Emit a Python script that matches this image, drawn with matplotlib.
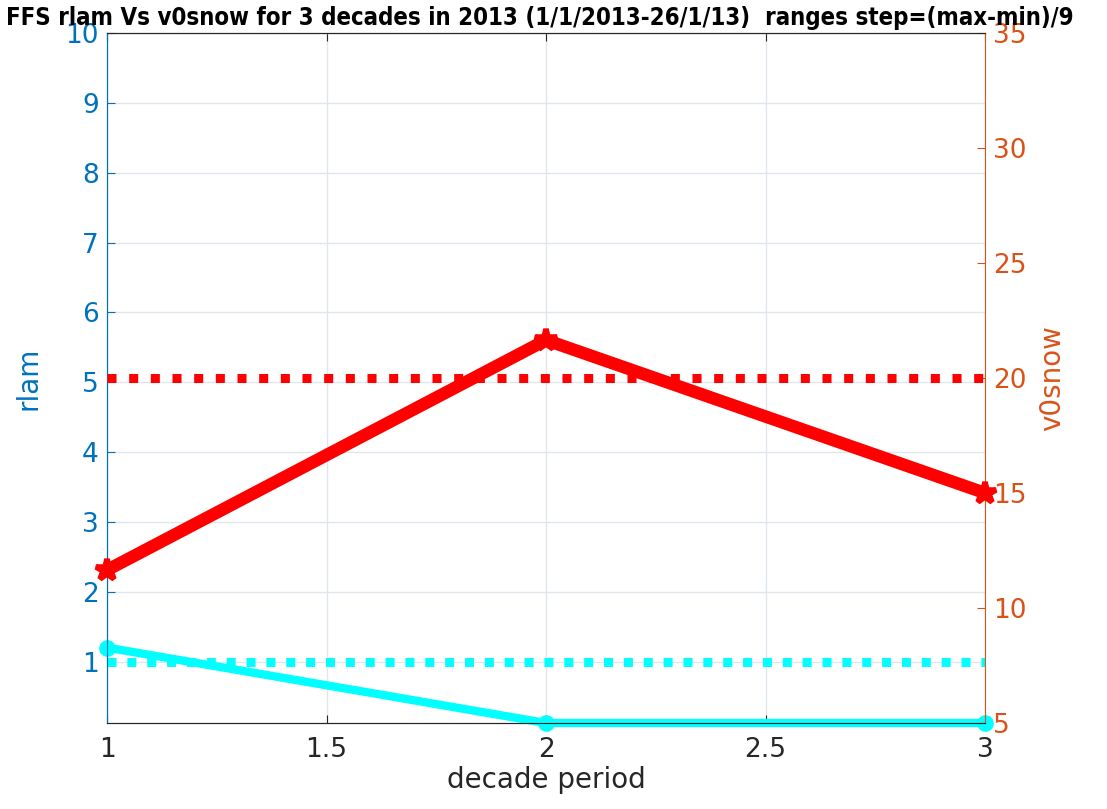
import matplotlib
matplotlib.use("Agg")
import matplotlib.pyplot as plt

decades = [1, 2, 3]
rlam = [1.2, 0.12, 0.12]
rlam_ref = [1.0, 1.0, 1.0]
v0snow = [11.65, 21.65, 15.0]
v0snow_ref = [20.0, 20.0, 20.0]

xticks = [1, 1.5, 2, 2.5, 3]
xticklabels = ["1", "1.5", "2", "2.5", "3"]
lticks = [1, 2, 3, 4, 5, 6, 7, 8, 9, 10]
rticks = [5, 10, 15, 20, 25, 30, 35]

blue = "#0072BD"
orange = "#D95319"

fig = plt.figure(figsize=(11.07, 8.09), dpi=100)
ax = fig.add_axes([0.0967, 0.1063, 0.8898 - 0.0967, 0.9592 - 0.1063])
ax2 = ax.twinx()

ax.plot(decades, rlam_ref, color="cyan", lw=6.5, linestyle=(0, (1, 1.2)), zorder=3)
ax.plot(decades, rlam, color="cyan", lw=6, marker="o", ms=11, clip_on=False, zorder=4)

ax2.plot(decades, v0snow_ref, color="red", lw=6.5, linestyle=(0, (1, 1.4)), zorder=3)
ax2.plot(decades, v0snow, color="red", lw=9, marker="*", ms=16, mew=4, clip_on=False, zorder=4)

ax.set_xlim(1, 3)
ax.set_ylim(0.12, 10)
ax2.set_ylim(5, 35)
ax.set_xticks(xticks)
ax.set_xticklabels(xticklabels)
ax.set_yticks(lticks)
ax2.set_yticks(rticks)

ax.grid(True, color="#dfe6ee", lw=1)
ax.set_axisbelow(True)

ax.tick_params(axis="x", direction="in", length=6, labelsize=19, colors="#262626", pad=10)
ax.tick_params(axis="y", direction="in", length=6, labelsize=19, colors=blue, pad=6)
ax2.tick_params(axis="y", direction="in", length=6, labelsize=19, colors=orange, pad=6)
ax.tick_params(axis="x", top=True)

for a in (ax, ax2):
    a.spines["top"].set_color("#262626")
    a.spines["bottom"].set_color("#262626")
ax.spines["left"].set_color(blue)
ax2.spines["left"].set_color(blue)
ax2.spines["right"].set_color(orange)
ax.spines["right"].set_visible(False)

ax.set_xlabel("decade period", fontsize=20, color="#262626", labelpad=2)
ax.set_ylabel("rlam", fontsize=20, color=blue, labelpad=16)
ax2.set_ylabel("v0snow", fontsize=20, color=orange, labelpad=8)

fig.text(0.488, 0.993, "FFS rlam Vs v0snow for 3 decades in 2013 (1/1/2013-26/1/13)  ranges step=(max-min)/9",
         ha="center", va="top", fontsize=17.2, fontweight="bold",
         fontstretch="condensed", family=["DejaVu Sans"])

fig.savefig("out.png", dpi=100)
